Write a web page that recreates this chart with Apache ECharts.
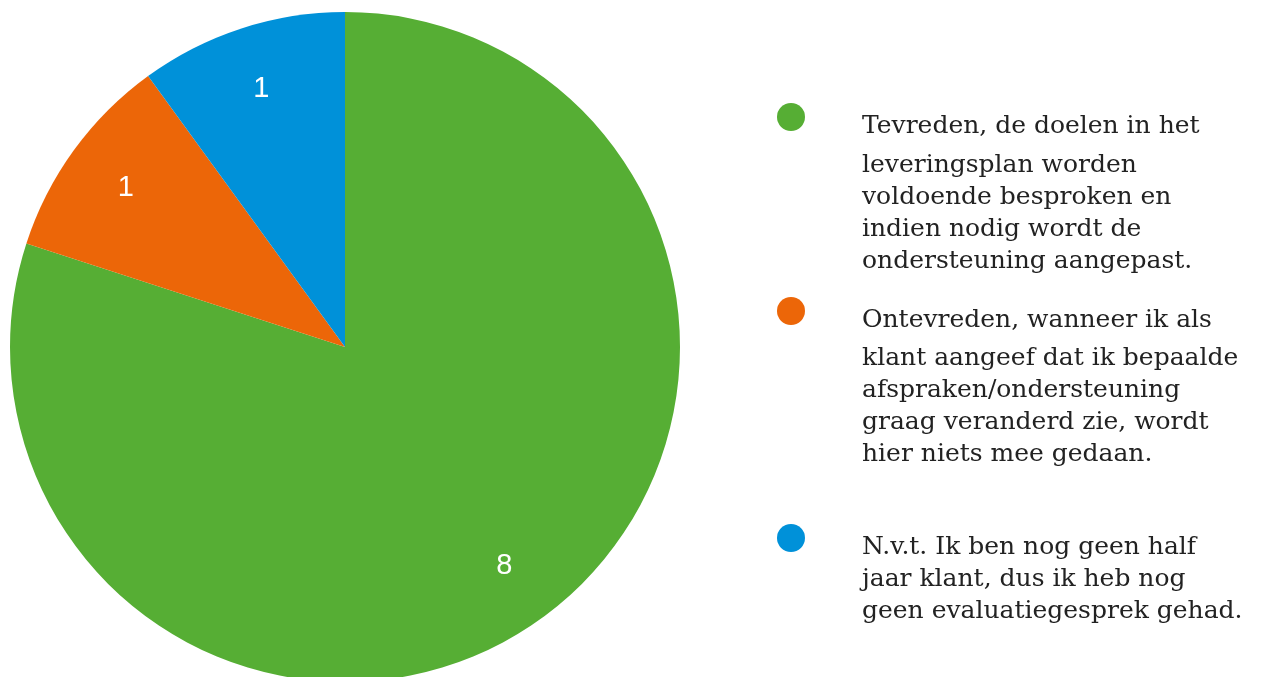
<!DOCTYPE html>
<html>
<head>
<meta charset="utf-8">
<style>
  html, body { margin: 0; padding: 0; background: #ffffff; }
  #chart { width: 1268px; height: 677px; }
</style>
<script src="https://cdn.jsdelivr.net/npm/echarts@6/dist/echarts.min.js"></script>
</head>
<body>
<div id="chart"></div>
<script>
// Answer categories and counts
const categories = [
  'Tevreden, de doelen in het leveringsplan worden voldoende besproken en indien nodig wordt de ondersteuning aangepast.',
  'Ontevreden, wanneer ik als klant aangeef dat ik bepaalde afspraken/ondersteuning graag veranderd zie, wordt hier niets mee gedaan.',
  'N.v.t. Ik ben nog geen half jaar klant, dus ik heb nog geen evaluatiegesprek gehad.'
];
const counts = [8, 1, 1];
const colors = ['#56ae34', '#ec6608', '#0091d9'];

// Wrapped legend text, one array per category
const legendLines = [
  ['Tevreden, de doelen in het', 'leveringsplan worden', 'voldoende besproken en', 'indien nodig wordt de', 'ondersteuning aangepast.'],
  ['Ontevreden, wanneer ik als', 'klant aangeef dat ik bepaalde', 'afspraken/ondersteuning', 'graag veranderd zie, wordt', 'hier niets mee gedaan.'],
  ['N.v.t. Ik ben nog geen half', 'jaar klant, dus ik heb nog', 'geen evaluatiegesprek gehad.']
];

const chart = echarts.init(document.getElementById('chart'));

const R = 335;
const CX = 345, CY = 347;
const ICON = 28;
const LINE = 32;
const legendIconY = [117, 311, 538];     // icon centre per legend entry
const firstLine = [46, 44, 32];          // height of the first text line
const textShift = 9;                     // first text line sits a little below the icon centre

const pieData = categories.map((name, i) => ({
  name: name,
  value: counts[i],
  itemStyle: { color: colors[i] }
}));

// One legend block per entry so each marker lines up with its first text line
const legends = categories.map((name, i) => {
  const n = legendLines[i].length;
  const padTop = 2 * textShift + (n - 1) * LINE;
  const rich = {
    a: { fontFamily: 'DejaVu Serif', fontSize: 25, color: '#222222', lineHeight: firstLine[i] },
    b: { fontFamily: 'DejaVu Serif', fontSize: 25, color: '#222222', lineHeight: LINE }
  };
  return {
    show: true,
    data: [name],
    orient: 'vertical',
    left: 777,
    top: legendIconY[i] - ICON / 2,
    padding: 0,
    icon: 'circle',
    itemWidth: ICON,
    itemHeight: ICON,
    selectedMode: false,
    textStyle: {
      padding: [padTop, 0, 0, 52],
      rich: rich
    },
    formatter: function () {
      return legendLines[i].map((t, k) => (k === 0 ? '{a|' : '{b|') + t + '}').join('\n');
    }
  };
});

chart.setOption({
  animation: false,
  backgroundColor: '#ffffff',
  legend: legends,
  series: [
    {
      type: 'pie',
      center: [CX, CY],
      radius: [0, R],
      startAngle: 90,
      clockwise: true,
      silent: true,
      label: { show: false },
      labelLine: { show: false },
      itemStyle: { borderWidth: 0 },
      emphasis: { disabled: true },
      data: pieData
    },
    {
      // value labels placed at 80% of the radius
      type: 'pie',
      center: [CX, CY],
      radius: [R * 0.6, R],
      startAngle: 90,
      clockwise: true,
      silent: true,
      itemStyle: { color: 'rgba(0,0,0,0)', borderWidth: 0 },
      label: {
        show: true,
        position: 'inside',
        formatter: '{c}',
        color: '#ffffff',
        fontFamily: 'Liberation Sans',
        fontSize: 29
      },
      labelLine: { show: false },
      emphasis: { disabled: true },
      data: categories.map((name, i) => ({ name: name, value: counts[i] }))
    }
  ]
});
</script>
</body>
</html>
